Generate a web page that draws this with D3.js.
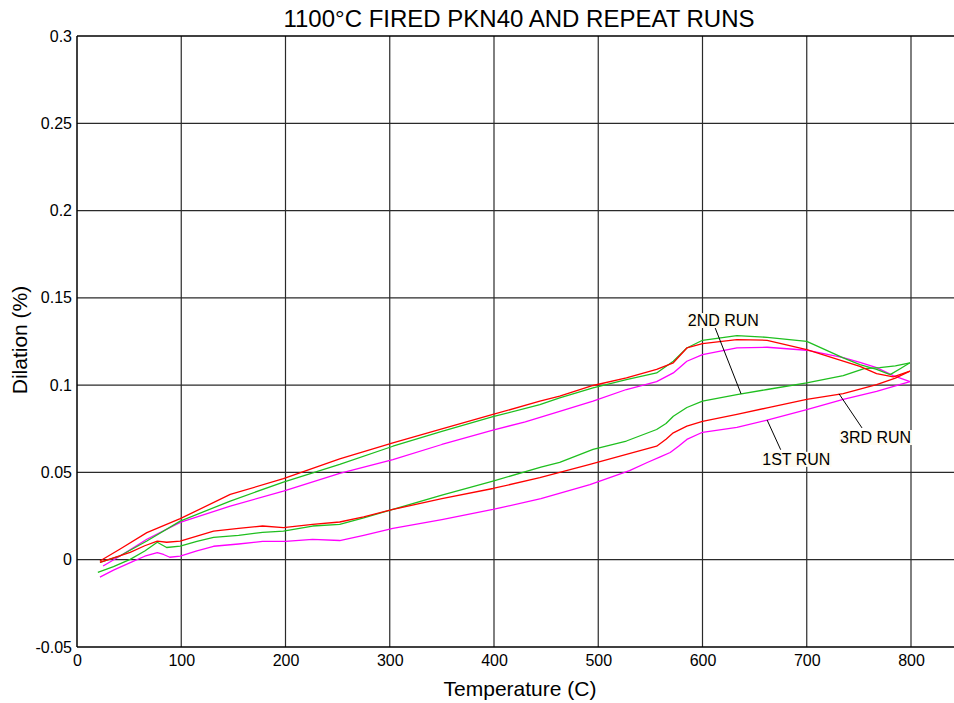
<!DOCTYPE html>
<html>
<head>
<meta charset="utf-8">
<script src="https://cdn.jsdelivr.net/npm/d3@7/dist/d3.min.js"></script>
<style>
  html, body { margin: 0; padding: 0; background: #fff; overflow: hidden; }
  svg { display: block; font-family: "Liberation Sans", Arial, sans-serif; }
</style>
</head>
<body>
<svg id="chart" width="954" height="703"></svg>
<script>
// ---- data: [temperature (C), dilation (%)] ----
const title = "1100°C FIRED PKN40 AND REPEAT RUNS";
const xLabel = "Temperature (C)";
const yLabel = "Dilation (%)";
const xTicks = [0, 100, 200, 300, 400, 500, 600, 700, 800];
const yTicks = [-0.05, 0, 0.05, 0.1, 0.15, 0.2, 0.25, 0.3];

// 1st run (magenta)
const run1Heat = [[22,-0.010],[35,-0.006],[50,-0.002],[65,0.002],[77,0.004],[83,0.003],[89,0.0014],[99,0.002],[115,0.005],[131,0.0077],[155,0.009],[178,0.0105],[200,0.0105],[226,0.0117],[252,0.011],[275,0.014],[303,0.018],[350,0.023],[399,0.0288],[445,0.035],[492,0.043],[511,0.047],[530,0.051],[547,0.0557],[560,0.059],[569,0.0614],[577,0.065],[585,0.0689],[600,0.073],[633,0.0758],[662,0.080],[700,0.086],[735,0.0918],[767,0.0964],[799,0.102]];
const run1Cool = [[799,0.102],[783,0.1055],[767,0.110],[751,0.113],[735,0.1158],[700,0.120],[662,0.1217],[633,0.1213],[600,0.1175],[585,0.1137],[572,0.107],[556,0.102],[527,0.0975],[495,0.0908],[463,0.085],[430,0.079],[399,0.0742],[350,0.066],[303,0.0574],[252,0.0494],[198,0.0393],[147,0.0307],[99,0.0214],[67,0.0117],[41,0.002],[25,-0.0036]];
// 2nd run (green)
const run2Heat = [[20,-0.0073],[35,-0.004],[51,0.0002],[65,0.005],[77,0.010],[86,0.007],[99,0.0078],[115,0.0105],[131,0.0128],[155,0.014],[178,0.0157],[198,0.0164],[226,0.0193],[252,0.0203],[275,0.024],[303,0.0288],[350,0.037],[399,0.045],[445,0.053],[463,0.0557],[495,0.0632],[527,0.068],[556,0.0746],[565,0.078],[572,0.0822],[585,0.0872],[600,0.0908],[633,0.0946],[662,0.0975],[700,0.1013],[735,0.1055],[755,0.1095],[770,0.110],[785,0.111],[799,0.1128]];
const run2Cool = [[799,0.1128],[790,0.1095],[780,0.106],[767,0.109],[751,0.1118],[735,0.1156],[700,0.1251],[662,0.1274],[633,0.1284],[600,0.1257],[585,0.1213],[572,0.1137],[556,0.107],[527,0.1032],[495,0.0984],[463,0.0927],[444,0.0889],[399,0.0819],[350,0.0735],[303,0.065],[252,0.0546],[198,0.0445],[147,0.0336],[99,0.0221],[67,0.0107],[41,0.0021],[22,-0.0015]];
// 3rd run (red)
const run3Heat = [[22,-0.0015],[35,0.001],[51,0.0042],[65,0.008],[77,0.0107],[86,0.010],[99,0.0107],[115,0.0135],[131,0.0164],[155,0.018],[178,0.0193],[198,0.0184],[226,0.0203],[252,0.0216],[275,0.0245],[303,0.0288],[350,0.035],[399,0.0408],[444,0.047],[492,0.0546],[527,0.0603],[556,0.065],[565,0.069],[572,0.0727],[585,0.0765],[600,0.0793],[633,0.0832],[662,0.087],[700,0.0918],[735,0.0952],[767,0.1003],[785,0.104],[799,0.108]];
const run3Cool = [[799,0.108],[783,0.1047],[767,0.1066],[751,0.1108],[735,0.1137],[700,0.1204],[662,0.1257],[633,0.1261],[600,0.1238],[585,0.1213],[572,0.1128],[556,0.109],[527,0.1042],[495,0.0998],[463,0.0937],[444,0.0908],[399,0.0832],[350,0.075],[303,0.067],[252,0.0578],[198,0.0464],[147,0.0374],[99,0.0235],[67,0.0155],[41,0.006],[22,-0.0007]];

const series = [
  { name: "1ST RUN", color: "#ff00ff", curves: [run1Heat, run1Cool] },
  { name: "2ND RUN", color: "#1fbf1f", curves: [run2Heat, run2Cool] },
  { name: "3RD RUN", color: "#ff0000", curves: [run3Heat, run3Cool] }
];

// annotation labels: [label, text-centre T, text-centre D, arrow-start T, arrow-start D, arrow-tip T, arrow-tip D]
const annotations = [
  ["2ND RUN", 620, 0.137, 612, 0.133, 637, 0.095],
  ["3RD RUN", 766, 0.070, 753, 0.0755, 731, 0.095],
  ["1ST RUN", 690, 0.0575, 675, 0.063, 662, 0.080]
];

// ---- layout ----
(function draw() {
  const svg = d3.select("#chart");
  const pLeft = 77, pTop = 36, pBottom = 647, pRight = 911, frameRight = 954;
  const x = d3.scaleLinear().domain([0, 800]).range([pLeft, pRight]);
  const y = d3.scaleLinear().domain([-0.05, 0.3]).range([pBottom, pTop]);
  const font = "Liberation Sans, Arial, sans-serif";

  // grid
  const gridColor = "#2a2a2a";
  svg.append("g").selectAll("line").data(xTicks.filter(d => d > 0)).join("line")
    .attr("x1", d => x(d)).attr("x2", d => x(d)).attr("y1", pTop).attr("y2", pBottom)
    .attr("stroke", gridColor).attr("stroke-width", 1.2);
  svg.append("g").selectAll("line").data(yTicks).join("line")
    .attr("x1", pLeft).attr("x2", frameRight).attr("y1", d => y(d)).attr("y2", d => y(d))
    .attr("stroke", d => (d === 0.3 || d === -0.05) ? "#000" : gridColor)
    .attr("stroke-width", d => (d === 0.3 || d === -0.05) ? 1.5 : 1.2);
  svg.append("line").attr("x1", pLeft).attr("x2", pLeft).attr("y1", pTop).attr("y2", pBottom)
    .attr("stroke", "#000").attr("stroke-width", 1.5);

  const xAxis = d3.axisBottom(x).tickValues(xTicks).tickSize(0).tickPadding(8).tickFormat(d3.format("d"));
  const gx = svg.append("g").attr("transform", `translate(0,${pBottom})`).call(xAxis);
  gx.select(".domain").remove();
  gx.selectAll("text").attr("font-size", 16).attr("fill", "#000").attr("font-family", font);

  const yAxis = d3.axisLeft(y).tickValues(yTicks).tickSize(0).tickPadding(5).tickFormat(d => String(+d.toFixed(2)));
  const gy = svg.append("g").attr("transform", `translate(${pLeft},0)`).call(yAxis);
  gy.select(".domain").remove();
  gy.selectAll("text").attr("font-size", 16).attr("fill", "#000").attr("font-family", font);

  // curves
  const line = d3.line().x(d => x(d[0])).y(d => y(d[1]));
  series.forEach(s => {
    s.curves.forEach(c => {
      svg.append("path").datum(c).attr("d", line)
        .attr("fill", "none").attr("stroke", s.color).attr("stroke-width", 1.3)
        .attr("stroke-linejoin", "round");
    });
  });

  // annotations
  annotations.forEach(a => {
    const [txt, tx, ty, sx, sy, px, py] = a;
    svg.append("line").attr("x1", x(sx)).attr("y1", y(sy)).attr("x2", x(px)).attr("y2", y(py))
      .attr("stroke", "#000").attr("stroke-width", 1);
    const g = svg.append("g");
    const t = g.append("text").attr("x", x(tx)).attr("y", y(ty)).attr("text-anchor", "middle")
      .attr("dominant-baseline", "central").attr("font-size", 16).attr("fill", "#000")
      .attr("font-family", font).text(txt);
    const bb = t.node().getBBox();
    g.insert("rect", "text").attr("x", bb.x - 1).attr("y", bb.y + 1).attr("width", bb.width + 2).attr("height", bb.height - 2)
      .attr("fill", "#fffbf0");
  });

  // titles
  svg.append("text").attr("x", 519).attr("y", 27).attr("text-anchor", "middle")
    .attr("font-size", 24).attr("fill", "#000").attr("font-family", font).text(title);
  svg.append("text").attr("x", 520).attr("y", 696).attr("text-anchor", "middle")
    .attr("font-size", 21).attr("fill", "#000").attr("font-family", font).text(xLabel);
  svg.append("text").attr("transform", "translate(27,340) rotate(-90)").attr("text-anchor", "middle")
    .attr("font-size", 21).attr("fill", "#000").attr("font-family", font).text(yLabel);
})();
</script>
</body>
</html>
